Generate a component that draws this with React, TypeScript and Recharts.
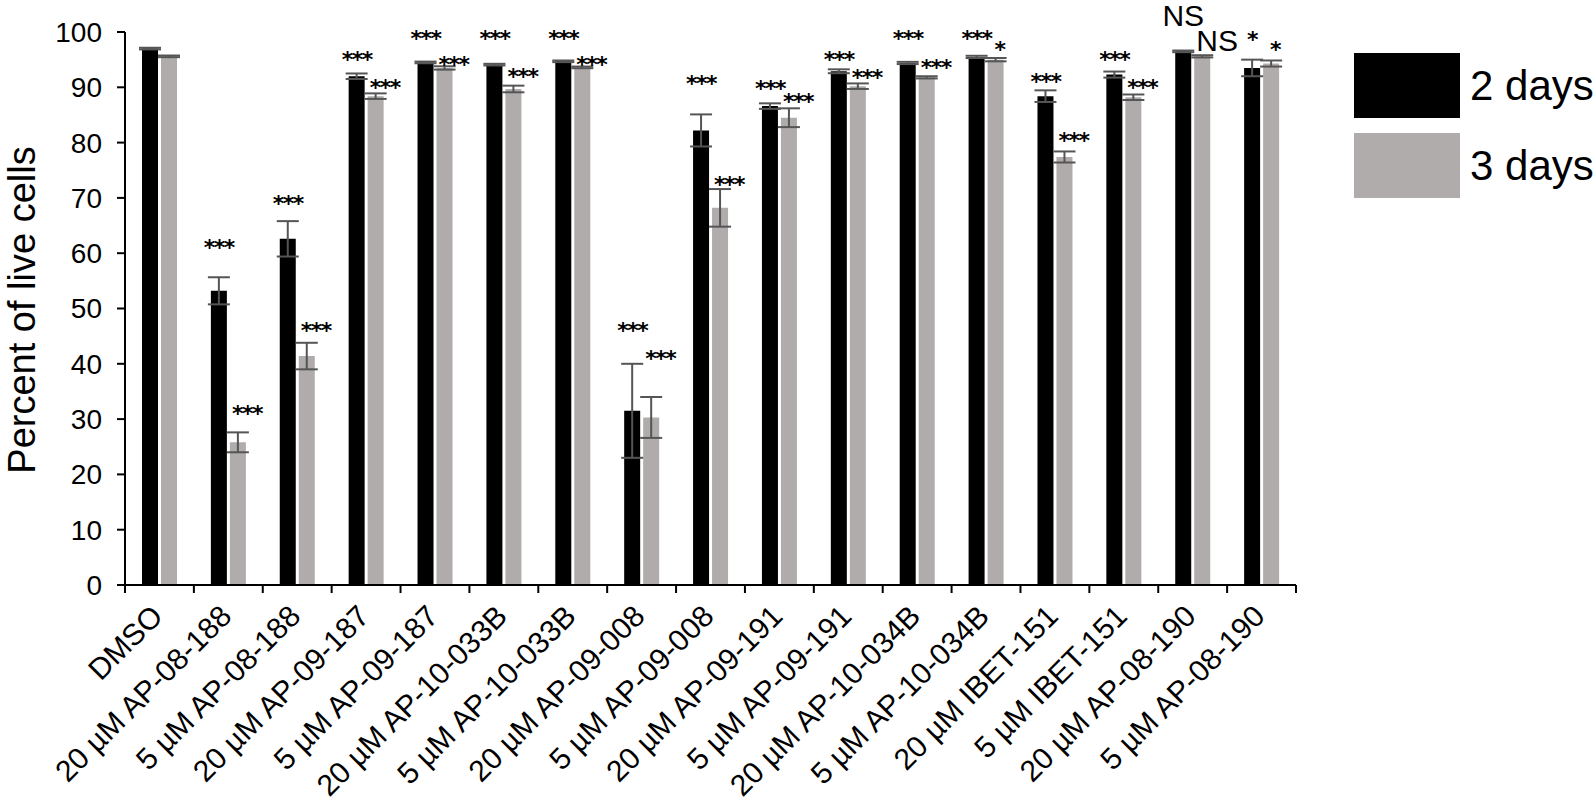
import React from 'react';
import { BarChart, Bar, XAxis, YAxis, ErrorBar, LabelList } from 'recharts';

const FONT = '"Liberation Sans", Arial, Helvetica, sans-serif';
const STAR_FONT = '"DejaVu Sans", "Liberation Sans", sans-serif';

const categories = [
  'DMSO',
  '20 µM AP-08-188',
  '5 µM AP-08-188',
  '20 µM AP-09-187',
  '5 µM AP-09-187',
  '20 µM AP-10-033B',
  '5 µM AP-10-033B',
  '20 µM AP-09-008',
  '5 µM AP-09-008',
  '20 µM AP-09-191',
  '5 µM AP-09-191',
  '20 µM AP-10-034B',
  '5 µM AP-10-034B',
  '20 µM IBET-151',
  '5 µM IBET-151',
  '20 µM AP-08-190',
  '5 µM AP-08-190',
];

const days2 = [97.0, 53.2, 62.6, 92.0, 94.5, 94.1, 94.7, 31.5, 82.2, 86.6, 92.9, 94.4, 95.5, 88.4, 92.3, 96.5, 93.5];
const days2Err = [0.15, 2.45, 3.2, 0.5, 0.15, 0.15, 0.15, 8.5, 2.9, 0.5, 0.35, 0.2, 0.2, 1.05, 0.55, 0.15, 1.5];
const days3 = [95.6, 25.8, 41.4, 88.4, 93.5, 89.7, 93.6, 30.3, 68.2, 84.5, 90.2, 91.8, 95.0, 77.4, 88.2, 95.6, 94.3];
const days3Err = [0.15, 1.8, 2.4, 0.5, 0.3, 0.6, 0.15, 3.7, 3.4, 1.7, 0.5, 0.2, 0.3, 1.0, 0.5, 0.2, 0.55];

const sig2 = ['', '***', '***', '***', '***', '***', '***', '***', '***', '***', '***', '***', '***', '***', '***', 'NS', '*'];
const sig3 = ['', '***', '***', '***', '***', '***', '***', '***', '***', '***', '***', '***', '*', '***', '***', 'NS', '*'];
// height (in % units) of the centre of each significance mark
const sig2Height = [0, 61.85, 69.7, 95.9, 99.7, 99.7, 99.7, 46.9, 91.4, 90.5, 95.9, 99.6, 99.6, 91.8, 95.9, 103.0, 99.4];
const sig3Height = [0, 31.8, 46.9, 90.7, 95.0, 92.7, 95.0, 41.7, 73.3, 88.2, 92.6, 94.4, 97.7, 81.1, 90.8, 98.5, 97.7];

const yTicks = [0, 10, 20, 30, 40, 50, 60, 70, 80, 90, 100];

const seriesNames = ['2 days', '3 days'];
const seriesColors = ['#000000', '#afacab'];
const yAxisTitle = 'Percent of live cells';

const data = categories.map((name, i) => ({
  name,
  idx: i,
  d2: days2[i],
  e2: days2Err[i],
  d3: days3[i],
  e3: days3Err[i],
}));

const makeSig = (texts: string[], heights: number[], values: number[], second: boolean) => (props: any) => {
  const vb = props.viewBox ?? props;
  const x = Number(vb.x ?? props.x);
  const y = Number(vb.y ?? props.y);
  const w = Number(vb.width ?? props.width);
  const h = Math.abs(Number(vb.height ?? props.height));
  const i = typeof props.value === 'number' ? props.value : props.index;
  const text = texts[i];
  if (!text) return null;
  const v = values[i];
  const ppu = h / v;
  const cy = y - (heights[i] - v) * ppu;
  const isNS = text.startsWith('N');
  const fs = isNS ? 30 : 22;
  const base = cy + (isNS ? 0.36 : 0.54) * fs;
  let tx = x + w / 2;
  let anchor: any = 'middle';
  if (second) {
    if (text.length > 1) {
      tx = x + 2;
      anchor = 'start';
    } else {
      tx = x + w / 2 + 4;
    }
  }
  return (
    <text
      x={tx}
      y={base}
      textAnchor={anchor}
      fontSize={fs}
      fontWeight={isNS ? 'normal' : 'bold'}
      letterSpacing={isNS ? 0 : -1.5}
      fontFamily={isNS ? FONT : STAR_FONT}
      fill="#000"
    >
      {text}
    </text>
  );
};

const CatTick = (props: any) => {
  const { x, y, payload } = props;
  const half = payload && typeof payload.offset === 'number' && payload.offset > 0 ? payload.offset : 34.45;
  const idx = payload && typeof payload.index === 'number' ? payload.index : categories.indexOf(payload.value);
  const last = idx === categories.length - 1;
  const ax = x + 5;
  const ay = y + 33;
  return (
    <g>
      <line x1={x - half} x2={x - half} y1={y} y2={y + 8} stroke="#000" strokeWidth={2} />
      {last && <line x1={x + half} x2={x + half} y1={y} y2={y + 8} stroke="#000" strokeWidth={2} />}
      <text
        x={ax}
        y={ay}
        textAnchor="end"
        transform={`rotate(-45, ${ax}, ${ay})`}
        fontSize={30}
        fontFamily={FONT}
        fill="#000"
      >
        {payload.value}
      </text>
    </g>
  );
};

const YTitle = (props: any) => {
  const vb = props.viewBox || { x: 0, y: 32, width: 125, height: 553 };
  const cx = vb.x + 35;
  const cy = vb.y + vb.height / 2 + 1.5;
  return (
    <text
      x={cx}
      y={cy}
      textAnchor="middle"
      transform={`rotate(-90, ${cx}, ${cy})`}
      fontSize={38}
      fontFamily={FONT}
      fill="#000"
    >
      {yAxisTitle}
    </text>
  );
};

export default function App() {
  return (
    <div
      style={{
        position: 'absolute',
        left: 0,
        top: 0,
        width: 1594,
        height: 807,
        background: '#fff',
        fontFamily: FONT,
        overflow: 'hidden',
      }}
    >
      <BarChart
        width={1594}
        height={807}
        data={data}
        margin={{ top: 32, right: 298, bottom: 0, left: 0 }}
        barSize={16}
        barGap={3}
      >
        <XAxis
          dataKey="name"
          height={222}
          interval={0}
          tickLine={false}
          tickSize={0}
          tickMargin={0}
          axisLine={{ stroke: '#000', strokeWidth: 2 }}
          tick={<CatTick />}
        />
        <YAxis
          domain={[0, 100]}
          ticks={yTicks}
          interval={0}
          width={125}
          tickSize={8}
          tickMargin={15}
          axisLine={{ stroke: '#000', strokeWidth: 2 }}
          tickLine={{ stroke: '#000', strokeWidth: 2 }}
          tick={{ fill: '#000', fontSize: 28, fontFamily: FONT }}
          label={<YTitle />}
        />
        <Bar dataKey="d2" name={seriesNames[0]} fill={seriesColors[0]} isAnimationActive={false}>
          <ErrorBar dataKey="e2" width={11} strokeWidth={2} stroke="#555" direction="y" />
          <LabelList dataKey="idx" content={makeSig(sig2, sig2Height, days2, false)} />
        </Bar>
        <Bar dataKey="d3" name={seriesNames[1]} fill={seriesColors[1]} isAnimationActive={false}>
          <ErrorBar dataKey="e3" width={11} strokeWidth={2} stroke="#555" direction="y" />
          <LabelList dataKey="idx" content={makeSig(sig3, sig3Height, days3, true)} />
        </Bar>
      </BarChart>
      <div style={{ position: 'absolute', left: 1354, top: 53 }}>
        {seriesNames.map((n, i) => (
          <div key={n} style={{ display: 'flex', alignItems: 'center', height: 65, marginBottom: 15 }}>
            <div style={{ width: 106, height: 65, background: seriesColors[i] }} />
            <span style={{ marginLeft: 10, fontSize: 42, color: '#000', fontFamily: FONT, lineHeight: '65px' }}>{n}</span>
          </div>
        ))}
      </div>
    </div>
  );
}
